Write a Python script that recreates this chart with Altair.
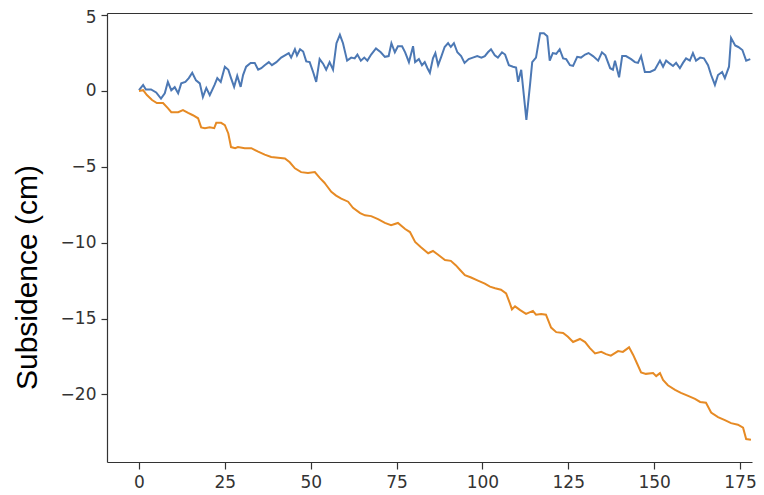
import altair as alt
import pandas as pd

# Series 1 (blue)
blue_x = [0, 1.2, 2, 3.5, 5, 6.4, 7.5, 8.4, 9.4, 10.4, 11.4, 12.3, 13.5, 14.5, 15.5, 16.6, 17.7, 18.6,
          19.6, 20.6, 22, 22.8, 23.8, 25, 26, 26.8, 27.7, 28.6, 29.6, 30.3, 31.2, 32.5, 33.7, 34.7, 35.6,
          36.6, 37.8, 38.7, 40, 41.4, 42.5, 43.6, 44.3, 45.4, 46, 46.9, 47.8, 48.7, 49.7, 50.7, 51.6,
          52.6, 53.6, 54.5, 55.5, 56.5, 57.5, 58.5, 59.4, 60.6, 61.8, 62.8, 63.6, 64.6, 65.6, 66.5, 67.6,
          69, 70.4, 71.6, 72.7, 73.5, 74.5, 75.4, 76.6, 77.5, 78.6, 79.8, 80.4, 81.5, 82.4, 83.2, 84,
          84.7, 85.6, 86.3, 87.1, 88, 89, 90, 90.8, 91.7, 92.7, 93.8, 94.8, 96, 97.2, 98.5, 99.7, 100.7,
          101.6, 102.5, 103.6, 104.5, 105.7, 106.6, 107.7, 108.9, 109.8, 110.4, 111.3, 112.8, 113.9,
          114.5, 115.6, 116.8, 117.9, 118.9, 119.6, 120.5, 121.5, 122.5, 123.5, 124.4, 125.5, 126.4,
          127.6, 128.7, 129.9, 130.9, 132.2, 133.7, 134.8, 135.8, 137.2, 138, 138.6, 139.8, 140.7,
          141.8, 143.3, 144.4, 145.3, 146.2, 147.3, 148.8, 150.2, 151.7, 152.6, 153.5, 154.6, 155.5,
          156.4, 157.5, 158.4, 159.3, 160.4, 161.3, 162.2, 163.4, 164.5, 165.7, 166.6, 167.7, 168.6,
          169.8, 170.6, 171.8, 172.4, 173.6, 174.5, 175.7, 176.8, 178]
blue_y = [0.05, 0.4, 0.1, 0.1, -0.1, -0.5, -0.15, 0.6, 0.05, 0.25, -0.15, 0.5, 0.6, 0.85, 1.2, 0.7, 0.5, -0.4,
          0.2, -0.27, 0.4, 0.85, 0.6, 1.6, 1.4, 0.85, 0.27, 1.0, 0.27, 1.05, 1.6, 1.85, 1.85, 1.4, 1.5,
          1.7, 1.9, 1.7, 1.9, 2.2, 2.35, 2.5, 2.2, 2.75, 2.35, 2.75, 2.6, 1.95, 1.9, 1.25, 0.6,
          2.1, 1.8, 1.4, 1.9, 1.4, 3.15, 3.7, 3.15, 2.0, 2.2, 2.15, 2.4, 2.0, 2.2, 2.0, 2.4,
          2.8, 2.55, 2.25, 2.3, 3.15, 2.55, 2.95, 2.95, 2.55, 1.9, 2.95, 1.9, 2.1, 1.7, 1.9, 1.5,
          1.2, 2.15, 2.5, 1.7, 2.25, 2.9, 3.15, 2.9, 3.15, 2.55, 2.3, 1.85, 2.1, 2.2, 2.3, 2.2, 2.3,
          2.55, 2.75, 2.35, 2.2, 2.55, 2.4, 1.7, 1.6, 1.55, 0.6, 1.4, -1.9, 0.5,
          1.9, 2.2, 3.8, 3.8, 3.6, 2.0, 2.5, 2.45, 2.75, 2.15, 2.1, 1.7, 1.65,
          2.25, 2.2, 2.4, 2.5, 2.3, 2.0, 2.55, 2.35, 1.5, 1.4, 2.0, 0.9, 2.3,
          2.3, 2.1, 1.9, 1.85, 2.3, 1.25, 1.25, 1.4, 2.0, 1.6, 2.0, 1.8, 1.65,
          1.85, 1.5, 1.85, 2.15, 2.0, 2.5, 2.0, 2.2, 2.15, 1.7, 1.05, 0.4, 1.05,
          1.25, 0.85, 1.6, 3.5, 3.0, 2.9, 2.7, 2.0, 2.1]

# Series 2 (orange)
orange_x = [0, 1.2, 2.3, 3.8, 5.2, 7, 8.4, 9.4, 11.4, 12.8, 14.3, 15.7, 17.2, 18.1, 19.2, 20.6, 21.9, 22.5,
            23.9, 25, 26, 26.8, 28, 28.8, 30.8, 32.7, 34.7, 36.6, 38.5, 40.5, 42.5, 43.9, 45.4, 47.2,
            49.2, 51.2, 52.7, 54, 54.5, 56, 57.4, 58.9, 60.9, 62.3, 64.4, 65.8, 67.6, 69.6, 71.6, 73.4,
            75.4, 77.5, 78.9, 80.4, 82.1, 84.2, 85.6, 87.1, 89.1, 90.8, 92.3, 93.5, 94.9, 96.7, 98.7,
            100.7, 102.2, 103.7, 105.4, 106.9, 108, 108.6, 109.5, 111, 112.7, 114.7, 115.6, 117.1,
            118.5, 120, 121.5, 123.5, 124.9, 126.4, 128.4, 129.9, 131.3, 132.8, 134.6, 136, 137.4,
            139.5, 140.9, 142.7, 143.9, 145, 146.2, 147.6, 149.7, 150.6, 151.7, 152.6, 154, 156.1,
            157.8, 159.9, 161.9, 163.4, 165.1, 166.6, 168.6, 170.6, 172.4, 174.4, 175.9, 176.8, 178.2]
orange_y = [0, 0.05, -0.27, -0.6, -0.8, -0.8, -1.13, -1.4, -1.4, -1.26, -1.45, -1.6, -1.8, -2.4, -2.45, -2.4, -2.45, -2.1,
            -2.1, -2.25, -2.8, -3.7, -3.77, -3.7, -3.77, -3.77, -4.0, -4.2, -4.35, -4.4, -4.45, -4.7, -5.1, -5.35,
            -5.4, -5.35, -5.75, -6.05, -6.2, -6.65, -6.9, -7.1, -7.3, -7.7, -8.05, -8.2, -8.25, -8.45, -8.7, -8.85,
            -8.7, -9.1, -9.3, -9.95, -10.3, -10.7, -10.55, -10.8, -11.15, -11.2, -11.5, -11.8, -12.15, -12.3, -12.5,
            -12.7, -12.9, -13.0, -13.1, -13.35, -14.0, -14.4, -14.2, -14.45, -14.7, -14.5, -14.75, -14.7,
            -14.75, -15.6, -15.9, -15.95, -16.2, -16.55, -16.35, -16.55, -16.95, -17.3, -17.2, -17.35, -17.45,
            -17.15, -17.2, -16.9, -17.4, -17.95, -18.55, -18.65, -18.6, -18.8, -18.6, -19.05, -19.4, -19.7,
            -19.9, -20.1, -20.3, -20.5, -20.55, -21.2, -21.5, -21.7, -21.9, -22.0, -22.2, -22.95, -23.0]

x_ticks = [0, 25, 50, 75, 100, 125, 150, 175]
y_ticks = [5, 0, -5, -10, -15, -20]

blue_df = pd.DataFrame({"x": blue_x, "y": blue_y})
orange_df = pd.DataFrame({"x": orange_x, "y": orange_y})

xscale = alt.Scale(domain=[-9.32, 178.5], nice=False, zero=False)
yscale = alt.Scale(domain=[-24.46, 5.14], nice=False, zero=False)

axis_common = dict(
    domainColor="#333333", domainWidth=1.2, tickColor="#333333", tickWidth=1.2,
    labelFont="DejaVu Sans", labelFontSize=17, labelColor="#333333", grid=False,
)

blue = alt.Chart(blue_df).mark_line(color="#4c78b4", strokeWidth=2).encode(
    x=alt.X("x:Q", scale=xscale,
            axis=alt.Axis(values=x_ticks, title=None, tickSize=7, labelPadding=5, orient="bottom",
                          labelFlush=False, **axis_common)),
    y=alt.Y("y:Q", scale=yscale,
            axis=alt.Axis(values=y_ticks, title="Subsidence (cm)", tickSize=6, labelPadding=5,
                          titleFont="Liberation Sans", titleFontSize=30, titleFontWeight="normal",
                          titleColor="#000000", titleX=-80, titleY=264, titleBaseline="middle",
                          titleAngle=270, labelFlush=False,
                          labelOffset={"expr": "datum.value == 5 ? 2 : 0"},
                          **axis_common)),
)

orange = alt.Chart(orange_df).mark_line(color="#e68a24", strokeWidth=2).encode(
    x=alt.X("x:Q", scale=xscale,
            axis=alt.Axis(orient="top", labels=False, ticks=False, title=None,
                          domainColor="#333333", domainWidth=1.2, grid=False)),
    y=alt.Y("y:Q", scale=yscale),
)

chart = alt.layer(blue, orange).resolve_axis(x="independent").properties(
    width=645, height=449,
    autosize=alt.AutoSizeParams(type="none"),
    padding={"left": 99, "top": 5, "right": 4, "bottom": 31},
).configure_view(stroke=None)

chart.save("out.html", embed_options={"renderer": "svg", "actions": False})
